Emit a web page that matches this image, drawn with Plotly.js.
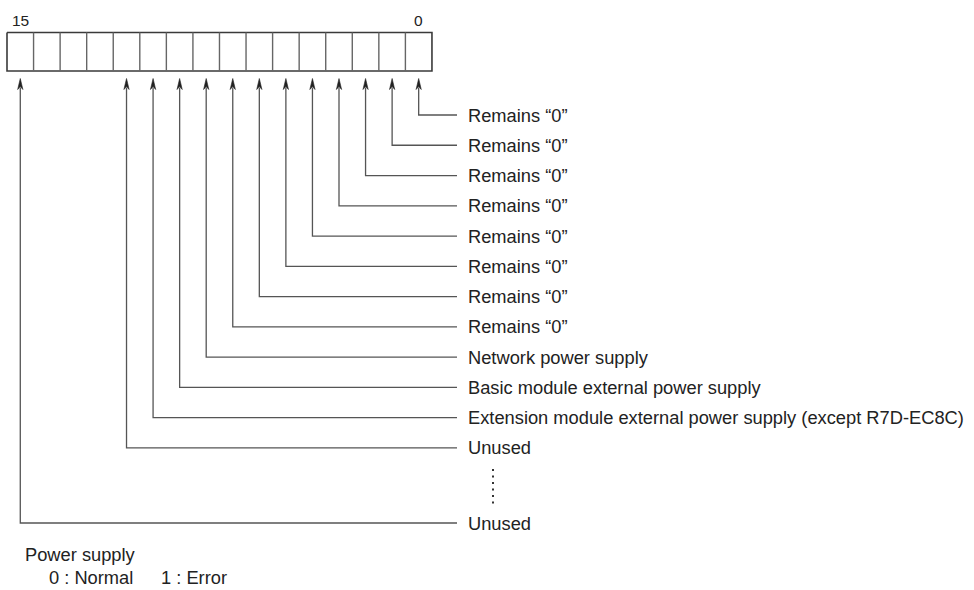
<!DOCTYPE html>
<html>
<head>
<meta charset="utf-8">
<script src="https://cdn.plot.ly/plotly-3.0.1.min.js"></script>
<style>html,body{margin:0;padding:0;background:#fff;}#chart{width:974px;height:590px;}</style>
</head>
<body>
<div id="chart"></div>
<script>
// ---- data ----
const bitNumbers = [0,1,2,3,4,5,6,7,8,9,10,11,12,13,14,15];
const bitLabels = [
  'Remains “0”','Remains “0”','Remains “0”','Remains “0”',
  'Remains “0”','Remains “0”','Remains “0”','Remains “0”',
  'Network power supply',
  'Basic module external power supply',
  'Extension module external power supply (except R7D-EC8C)',
  'Unused', null, null, null, 'Unused'
];
const headerLabels = ['15', '0'];
const noteTitle = 'Power supply';
const noteValues = ['0 : Normal', '1 : Error'];

// ---- geometry (layout only) ----
const G = {
  boxLeft: 7, boxW: 26.56, boxTop: 32.5, boxBot: 71,
  tipY: 78.5, headLen: 11, headHalf: 2.6,
  row0: 115, rowStep: 30.27, lastRow: 523,
  lineEnd: 457, textX: 466,
  dotsX: 493, dotsTop: 469, dotsBot: 508
};
const boxIndex = b => 15 - b;
const centerX = b => G.boxLeft + (boxIndex(b) + 0.5) * G.boxW;
const rowY = b => (b === 15 ? G.lastRow : G.row0 + G.rowStep * b);

const traces = [];
const annotations = [];
const textFont = {family: 'Liberation Sans, Arial, Helvetica, sans-serif', size: 18.3, color: '#222'};

// register box
const left = G.boxLeft, right = G.boxLeft + 16 * G.boxW;
traces.push({x: [left, right, right, left, left], y: [G.boxTop, G.boxTop, G.boxBot, G.boxBot, G.boxTop],
  mode: 'lines', line: {color: '#3a3a3a', width: 1.6}, hoverinfo: 'skip'});
const dx = [], dy = [];
for (let i = 1; i < bitNumbers.length; i++) {
  const x = G.boxLeft + i * G.boxW;
  dx.push(x, x, null); dy.push(G.boxTop, G.boxBot, null);
}
traces.push({x: dx, y: dy, mode: 'lines', line: {color: '#666', width: 1.4}, hoverinfo: 'skip'});

// header labels
const headFont = {family: textFont.family, size: 15.5, color: '#222'};
annotations.push({x: centerX(15), y: 20, text: headerLabels[0], showarrow: false, xanchor: 'center', yanchor: 'middle', font: headFont});
annotations.push({x: centerX(0), y: 20, text: headerLabels[1], showarrow: false, xanchor: 'center', yanchor: 'middle', font: headFont});

// leader lines, arrowheads, labels
const lx = [], ly = [], hx = [], hy = [];
bitNumbers.forEach(b => {
  const lab = bitLabels[b];
  if (lab === null) return;
  const cx = centerX(b), ry = rowY(b);
  lx.push(cx, cx, G.lineEnd, null);
  ly.push(G.tipY + G.headLen - 2, ry, ry, null);
  hx.push(cx, cx + G.headHalf, cx, cx - G.headHalf, cx, null);
  hy.push(G.tipY, G.tipY + G.headLen, G.tipY + G.headLen - 3, G.tipY + G.headLen, G.tipY, null);
  annotations.push({x: G.textX, y: ry, text: lab, showarrow: false, xanchor: 'left', yanchor: 'middle', font: textFont});
});
traces.push({x: lx, y: ly, mode: 'lines', line: {color: '#555', width: 1.3}, hoverinfo: 'skip'});
traces.push({x: hx, y: hy, mode: 'lines', fill: 'toself', fillcolor: '#222', line: {color: '#222', width: 0.6}, hoverinfo: 'skip'});

// vertical ellipsis
traces.push({x: [G.dotsX, G.dotsX], y: [G.dotsTop, G.dotsBot], mode: 'lines',
  line: {color: '#333', width: 2, dash: '2px,4.5px'}, hoverinfo: 'skip'});

// note
annotations.push({x: 22.5, y: 554, text: noteTitle, showarrow: false, xanchor: 'left', yanchor: 'middle', font: textFont});
annotations.push({x: 47.5, y: 577.5, text: noteValues[0], showarrow: false, xanchor: 'left', yanchor: 'middle', font: textFont, borderpad: 0});
annotations.push({x: 160, y: 577.5, text: noteValues[1], showarrow: false, xanchor: 'left', yanchor: 'middle', font: textFont, borderpad: 0});

const layout = {
  width: 974, height: 590,
  margin: {l: 0, r: 0, t: 0, b: 0, pad: 0},
  paper_bgcolor: '#fff', plot_bgcolor: '#fff',
  showlegend: false,
  xaxis: {range: [0, 974], visible: false, fixedrange: true},
  yaxis: {range: [590, 0], visible: false, fixedrange: true},
  annotations: annotations
};
Plotly.newPlot('chart', traces, layout, {staticPlot: true, displayModeBar: false});
</script>
</body>
</html>
